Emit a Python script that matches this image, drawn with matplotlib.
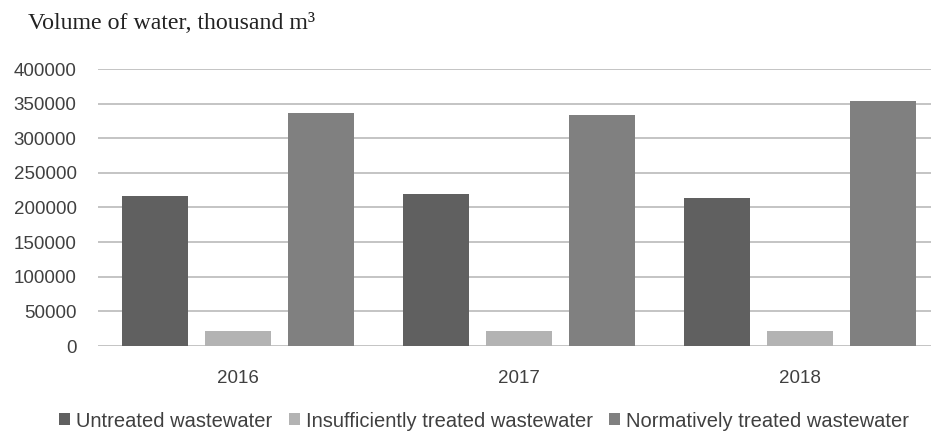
import numpy as np
import matplotlib
matplotlib.use('Agg')
from matplotlib import pyplot as plt

years = ['2016', '2017', '2018']
series_names = ['Untreated wastewater', 'Insufficiently treated wastewater', 'Normatively treated wastewater']
untreated = [216000, 219000, 214000]
insufficient = [22000, 22000, 22000]
normative = [337000, 333000, 354000]
yticks = [0, 50000, 100000, 150000, 200000, 250000, 300000, 350000, 400000]

colors = ['#606060', '#b3b3b3', '#808080']
txt_col = '#404040'
sans = 'Liberation Sans'

fig = plt.figure(figsize=(9.31, 4.36), dpi=100)
ax = fig.add_axes([97.5/931, 1 - 346/436, (931 - 97.5)/931, (346 - 69)/436])

x = np.arange(len(years))
step = 0.295
width = 0.235
handles = []
for i, vals in enumerate([untreated, insufficient, normative]):
    b = ax.bar(x + (i - 1)*step, vals, width=width, color=colors[i], zorder=3, label=series_names[i])
    handles.append(b)

ax.set_ylim(0, 400000)
ax.set_xlim(-0.5, -0.5 + (931 - 97.5)/281)
ax.set_yticks(yticks)
ax.set_yticklabels([str(v) for v in yticks])
ax.set_xticks(x)
ax.set_xticklabels(years)
ax.yaxis.grid(True, color='#c4c4c4', lw=1.4, zorder=0)
ax.set_axisbelow(True)
for s in ax.spines.values():
    s.set_visible(False)
ax.tick_params(axis='both', length=0, colors=txt_col, labelsize=13.5)
ax.tick_params(axis='y', pad=15)
ax.tick_params(axis='x', pad=17)
for lbl in ax.get_xticklabels() + ax.get_yticklabels():
    lbl.set_family(sans)

fig.text(28/931, 1 - 29/436, 'Volume of water, thousand m\u00b3', family='Liberation Serif',
         fontsize=17.2, color='#222222', va='baseline', ha='left')

fig.legend(handles=handles, loc='center', bbox_to_anchor=(0.52, 1 - 421/436), ncol=3,
           frameon=False, prop={'family': sans, 'size': 14.5}, labelcolor=txt_col,
           handlelength=0.55, handleheight=0.55, handletextpad=0.3, columnspacing=0.8,
           borderpad=0)

fig.savefig('out.png', dpi=100)
